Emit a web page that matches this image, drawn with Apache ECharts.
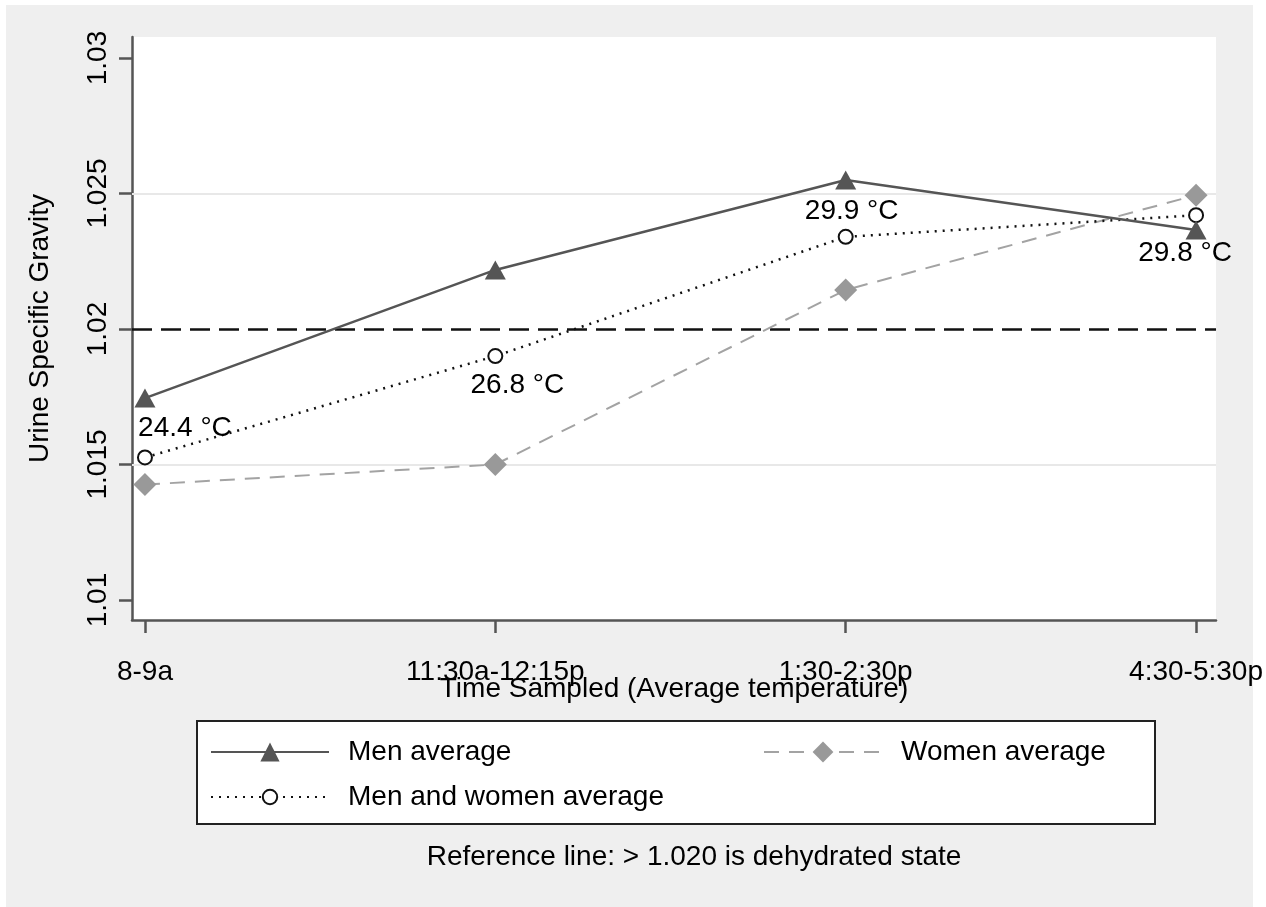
<!DOCTYPE html>
<html>
<head>
<meta charset="utf-8">
<script src="https://cdn.jsdelivr.net/npm/echarts@6/dist/echarts.min.js"></script>
<style>
  html, body { margin: 0; padding: 0; background: #fff; }
  #chart { width: 1266px; height: 907px; }
</style>
</head>
<body>
<div id="chart"></div>
<script>
// urine specific gravity by time of day
var timeLabels = ['8-9a', '11:30a-12:15p', '1:30-2:30p', '4:30-5:30p'];
var menAvg = [1.01745, 1.02218, 1.0255, 1.02365];
var womenAvg = [1.01426, 1.0150, 1.02144, 1.02494];
var bothAvg = [1.01526, 1.0190, 1.0234, 1.0242];
var temps = ['24.4 °C', '26.8 °C', '29.9 °C', '29.8 °C'];
var yTicks = [1.01, 1.015, 1.02, 1.025, 1.03];
var gridVals = [1.015, 1.025];
var refVal = 1.02;

var FONT = '"Liberation Sans", Arial, sans-serif';
var FS = 28;
// where each temperature label sits relative to its circle
var labelOffsets = [[40, -29], [22, 29], [6, -26], [-11, 38]];

var myChart = echarts.init(document.getElementById('chart'));

function pts(vals) {
    return vals.map(function (v, i) { return [i, v]; });
}

var legendBase = {
    padding: 0,
    itemWidth: 118,
    selectedMode: false,
    textStyle: { fontSize: FS, fontFamily: FONT, color: '#000', padding: [0, 0, 0, 14] }
};

option = {
    animation: false,
    backgroundColor: '#fff',
    grid: {
        left: 132, right: 46, top: 37, bottom: 287,
        show: true, backgroundColor: '#fff', borderWidth: 0
    },
    graphic: [
        { type: 'rect', silent: true, z: -10, shape: { x: 6, y: 5, width: 1247, height: 902 }, style: { fill: '#efefef' } },
        { type: 'rect', silent: true, z: 1, shape: { x: 197, y: 721, width: 958, height: 103 }, style: { fill: '#fff', stroke: '#222', lineWidth: 2 } },
        { type: 'text', silent: true, z: 1, style: { text: 'Reference line: > 1.020 is dehydrated state', x: 694, y: 857, textAlign: 'center', textVerticalAlign: 'middle', font: FS + 'px ' + FONT, fill: '#000' } }
    ],
    legend: [
        Object.assign({}, legendBase, { data: ['Men average'], left: 210, top: 738, itemHeight: 24 }),
        Object.assign({}, legendBase, { data: ['Women average'], left: 763, top: 738, itemHeight: 26 }),
        Object.assign({}, legendBase, { data: ['Men and women average'], left: 210, top: 783, itemHeight: 18 })
    ],
    xAxis: {
        type: 'value',
        min: -0.037,
        max: 3.057,
        name: 'Time Sampled (Average temperature)',
        nameLocation: 'middle',
        nameGap: 55,
        nameMoveOverlap: false,
        nameTextStyle: { fontSize: FS, fontFamily: FONT, color: '#000' },
        axisLine: { show: true, onZero: false, lineStyle: { color: '#555', width: 2.5 } },
        axisTick: { show: true, length: 13, customValues: [0, 1, 2, 3], lineStyle: { color: '#555', width: 2.5 } },
        axisLabel: {
            customValues: [0, 1, 2, 3],
            formatter: function (v) { return timeLabels[Math.round(v)]; },
            margin: 38, fontSize: FS, fontFamily: FONT, color: '#000'
        },
        splitLine: { show: false }
    },
    yAxis: {
        type: 'value',
        min: 1.009262,
        max: 1.030775,
        name: 'Urine Specific Gravity',
        nameLocation: 'middle',
        nameGap: 78,
        nameMoveOverlap: false,
        nameTextStyle: { fontSize: FS, fontFamily: FONT, color: '#000' },
        axisLine: { show: true, onZero: false, lineStyle: { color: '#555', width: 2.5 } },
        axisTick: { show: true, length: 13, customValues: yTicks, lineStyle: { color: '#555', width: 2.5 } },
        axisLabel: {
            customValues: yTicks,
            rotate: 90,
            formatter: function (v) { return String(+v.toFixed(3)); },
            margin: 20, fontSize: FS, fontFamily: FONT, color: '#000'
        },
        splitLine: { show: false },
        minorSplitLine: { show: false }
    },
    series: [
        {
            name: 'Women average',
            type: 'line',
            data: pts(womenAvg),
            symbol: 'diamond',
            symbolSize: 23,
            itemStyle: { color: '#999' },
            lineStyle: { color: '#a3a3a3', width: 2, type: [15, 10] },
            markLine: {
                silent: true, z: 1, symbol: 'none', animation: false, precision: 4,
                label: { show: false },
                lineStyle: { color: '#e8e8e8', width: 2, type: 'solid' },
                data: gridVals.map(function (v) { return { yAxis: v }; })
            }
        },
        {
            name: 'Men and women average',
            type: 'line',
            data: pts(bothAvg).map(function (p, i) {
                return {
                    value: p,
                    label: {
                        show: true, position: 'inside', offset: labelOffsets[i],
                        formatter: temps[i], fontSize: FS, fontFamily: FONT, color: '#000'
                    }
                };
            }),
            symbol: 'emptyCircle',
            symbolSize: 14,
            itemStyle: { color: '#111', borderWidth: 2 },
            lineStyle: { color: '#111', width: 2.5, type: [2, 6] },
            markLine: {
                silent: true, z: 1, symbol: 'none', animation: false, precision: 4,
                label: { show: false },
                lineStyle: { color: '#111', width: 2.5, type: [20, 9] },
                data: [{ yAxis: refVal }]
            }
        },
        {
            name: 'Men average',
            type: 'line',
            data: pts(menAvg),
            symbol: 'triangle',
            symbolSize: [21, 19],
            itemStyle: { color: '#555' },
            lineStyle: { color: '#555', width: 2.5 }
        }
    ]
};

myChart.setOption(option);
</script>
</body>
</html>
